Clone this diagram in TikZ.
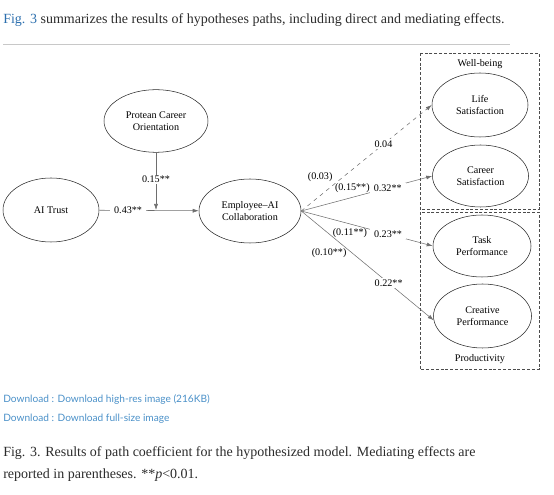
\documentclass[tikz,border=0pt]{standalone}
\usepackage{fontspec}
\setmainfont{Liberation Serif}
\newfontfamily\linkfont{Lato}
\usetikzlibrary{shapes.geometric, arrows.meta, positioning}
\definecolor{figblue}{HTML}{2C6FAE}
\definecolor{linkblue}{HTML}{4A90C8}
\definecolor{rulegray}{HTML}{C8C8C8}
\definecolor{edgegray}{HTML}{6E6E6E}
\definecolor{bodytext}{HTML}{2B2B2B}

\begin{document}
\begin{tikzpicture}[x=0.75pt, y=-0.75pt,
    construct/.style={draw=black!85, ellipse, minimum width=72pt, minimum height=48pt,
        inner sep=0pt, align=center, font=\fontsize{7.6}{9.2}\selectfont},
    coef/.style={font=\fontsize{7.6}{8.5}\selectfont, fill=white, inner xsep=3pt, inner ysep=1pt},
    paren/.style={font=\fontsize{7.6}{8.5}\selectfont, inner sep=1pt},
    link/.style={draw=edgegray, -{Latex[length=4.5pt,width=3pt]}},
    group/.style={draw=black!70, dash pattern=on 2.2pt off 1.4pt},
    grouplabel/.style={font=\fontsize{7.6}{8.5}\selectfont},
    bodyline/.style={anchor=base west, inner sep=0pt, text=bodytext, font=\fontsize{10.5}{12.5}\selectfont},
    download/.style={anchor=base west, inner sep=0pt, text=linkblue, font=\linkfont\fontsize{7.6}{9}\selectfont}]
    \useasboundingbox (0,0) rectangle (554,495);

    % page text above the figure
    \node[bodyline] (intro) at (3,24) {\textcolor{figblue}{Fig. 3} summarizes the results of hypotheses paths, including direct and mediating effects.};
    \draw[rulegray] (3,44) -- (510,44);

    % constructs
    \node[construct] (trust) at (51,210) {AI Trust};
    \node[construct, minimum width=78pt, minimum height=47pt] (pco) at (156,121) {Protean Career\\Orientation};
    \node[construct, minimum width=76.5pt] (collab) at (250,211) {Employee--AI\\Collaboration};

    \node[construct] (life) at (480,105) {Life\\Satisfaction};
    \node[construct, minimum height=46.5pt] (career) at (480.5,176) {Career\\Satisfaction};
    \node[construct, minimum width=73.5pt, minimum height=46.5pt] (task) at (482,246) {Task\\Performance};
    \node[construct, minimum width=73.5pt] (creative) at (482.5,316) {Creative\\Performance};

    % outcome groups
    \draw[group] (420,53) rectangle (539,209);
    \draw[group] (420,212) rectangle (539,369);
    \node[grouplabel] (wellbeing) at (480,64) {Well-being};
    \node[grouplabel] (productivity) at (480,359) {Productivity};

    % paths
    \coordinate (join) at (pco.south |- trust.east);
    \draw[link] (trust) -- node[coef, pos=0.29] {0.43**} (collab);
    \draw[link] (pco) -- node[coef, pos=0.47] {0.15**} (join);

    \draw[link, dashed] (collab.east) -- node[coef, pos=0.63] {0.04}
        node[paren, pos=0.145, yshift=14pt] {(0.03)} (life.west);
    \draw[link] (collab.east) -- node[coef, pos=0.66] {0.32**}
        node[paren, pos=0.39, yshift=6.8pt] {(0.15**)} (career.west);
    \draw[link] (collab.east) -- node[coef, pos=0.66] {0.23**}
        node[paren, pos=0.37, yshift=-6.8pt] {(0.11**)} (task.west);
    \draw[link] (collab.east) -- node[coef, pos=0.66] {0.22**}
        node[paren, pos=0.21, yshift=-14pt] {(0.10**)} (creative.185);

    % page text below the figure
    \node[download] (hires) at (3,403) {Download : Download high-res image (216KB)};
    \node[download] (fullsize) at (3,422) {Download : Download full-size image};
    \node[bodyline] (caption1) at (3,457) {Fig. 3. Results of path coefficient for the hypothesized model. Mediating effects are};
    \node[bodyline] (caption2) at (3,479) {reported in parentheses. **\textit{p}<0.01.};
\end{tikzpicture}
\end{document}
